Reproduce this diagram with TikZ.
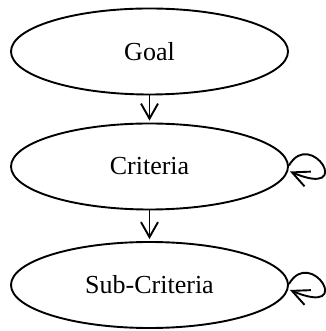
\documentclass[tikz,border=0pt]{standalone}
\usepackage{fontspec}
\setmainfont{Liberation Serif}
\usetikzlibrary{shapes.geometric,arrows.meta}
\begin{document}
\begin{tikzpicture}[x=1pt,y=1pt,
  level/.style={ellipse,draw,line width=1.9pt,minimum width=277pt,minimum height=86pt,inner sep=0pt,
    font=\fontsize{26}{30}\selectfont},
  link/.style={line width=1.9pt,-{Straight Barb[length=15pt,width=17pt,line width=1.9pt]},shorten >=2pt},
  selfloop/.style={line width=1.9pt,-{Straight Barb[length=17pt,width=16pt,line width=1.9pt]}}]
\useasboundingbox (0,0) rectangle (325,331);
\node[level] (G) at (149.5,279.5) {Goal};
\node[level] (C) at (149.5,164.5) {Criteria};
\node[level] (S) at (149.5,46) {Sub-Criteria};
\draw[link] (G.south) -- (C.north);
\draw[link] (C.south) -- (S.north);
\draw[selfloop] ([yshift=1pt]C.east) .. controls +(22,38) and +(66,-28) .. ([xshift=1pt,yshift=-5pt]C.east);
\draw[selfloop] ([yshift=1pt]S.east) .. controls +(22,38) and +(66,-28) .. ([xshift=1pt,yshift=-5pt]S.east);
\end{tikzpicture}
\end{document}
